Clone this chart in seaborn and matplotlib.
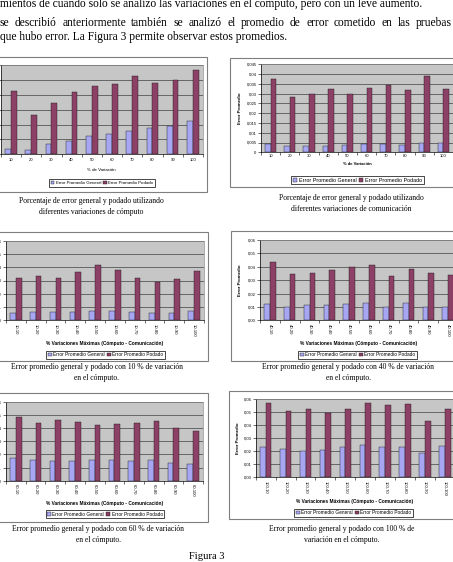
import numpy as np
import pandas as pd
import seaborn as sns
import matplotlib.pyplot as plt
from matplotlib.patches import Rectangle

W, H = 453, 562

series = ["Error Promedio General", "Error Promedio Podado"]
colors = {"Error Promedio General": "#9999FF", "Error Promedio Podado": "#993366"}
plot_bg = "#C6C6C6"

# categorias
var_pct = ["10", "20", "30", "40", "50", "60", "70", "80", "90", "100"]
comb_10 = ["10-10", "10-20", "10-30", "10-40", "10-50", "10-60", "10-70", "10-80", "10-90", "10-100"]
comb_40 = ["40-10", "40-20", "40-30", "40-40", "40-50", "40-60", "40-70", "40-80", "40-90", "40-100"]
comb_60 = ["60-10", "60-20", "60-30", "60-40", "60-50", "60-60", "60-70", "60-80", "60-90", "60-100"]
comb_100 = ["100-10", "100-20", "100-30", "100-40", "100-50", "100-60", "100-70", "100-80", "100-90", "100-100"]

# variaciones de computo
comp_general = [0.0034, 0.0027, 0.0067, 0.0089, 0.0125, 0.0136, 0.0159, 0.0174, 0.0188, 0.0224]
comp_podado = [0.0425, 0.0264, 0.0347, 0.0418, 0.0461, 0.0474, 0.0526, 0.0481, 0.0501, 0.0564]
# variaciones de comunicacion
com_general = [0.0041, 0.0032, 0.0032, 0.0032, 0.0038, 0.0041, 0.0041, 0.0038, 0.0048, 0.0046]
com_podado = [0.0374, 0.0285, 0.0297, 0.0324, 0.0297, 0.0331, 0.0345, 0.0317, 0.0389, 0.0324]
# 10 % computo
c10_general = [0.0055, 0.0063, 0.0063, 0.0063, 0.0070, 0.0070, 0.0063, 0.0055, 0.0055, 0.0070]
c10_podado = [0.0319, 0.0337, 0.0319, 0.0362, 0.0420, 0.0382, 0.0317, 0.0286, 0.0314, 0.0369]
# 40 % computo
c40_general = [0.0119, 0.0102, 0.0112, 0.0112, 0.0119, 0.0127, 0.0102, 0.0127, 0.0102, 0.0102]
c40_podado = [0.0435, 0.0346, 0.0356, 0.0376, 0.0398, 0.0413, 0.0328, 0.0383, 0.0351, 0.0338]
# 60 % computo
c60_general = [0.0170, 0.0157, 0.0149, 0.0149, 0.0157, 0.0157, 0.0149, 0.0157, 0.0134, 0.0127]
c60_podado = [0.0486, 0.0435, 0.0461, 0.0448, 0.0425, 0.0433, 0.0435, 0.0453, 0.0403, 0.0377]
# 100 % computo
c100_general = [0.0231, 0.0221, 0.0200, 0.0213, 0.0231, 0.0246, 0.0231, 0.0231, 0.0190, 0.0238]
c100_podado = [0.0569, 0.0513, 0.0523, 0.0497, 0.0523, 0.0569, 0.0554, 0.0564, 0.0431, 0.0523]

ticks_06 = [0.0, 0.01, 0.02, 0.03, 0.04, 0.05, 0.06]
labels_06 = ["0,00", "0,01", "0,02", "0,03", "0,04", "0,05", "0,06"]
ticks_045 = [0.0, 0.005, 0.01, 0.015, 0.02, 0.025, 0.03, 0.035, 0.04, 0.045]
labels_045 = ["0", "0,005", "0,01", "0,015", "0,02", "0,025", "0,03", "0,035", "0,04", "0,045"]

plt.rcParams["font.family"] = ["Liberation Sans", "DejaVu Sans"]
serif = ["Liberation Serif", "DejaVu Serif"]

fig = plt.figure(figsize=(W / 100, H / 100), dpi=100)


def px_rect(l, t, r, b):
    return [l / W, 1 - b / H, (r - l) / W, (b - t) / H]


def ftext(x, y, s, **kw):
    return fig.text(x / W, 1 - y / H, s, **kw)


def frame(l, t, r, b):
    fig.add_artist(Rectangle((l / W, 1 - b / H), (r - l) / W, (b - t) / H,
                             transform=fig.transFigure, facecolor="white",
                             edgecolor="#7F7F7F", linewidth=0.8, zorder=-1))


def bar_chart(box, cats, gen, pod, ticks, tick_labels, rot=0, xpad=2, leg=None, leg_size=3.3):
    ax = fig.add_axes(px_rect(*box))
    df = pd.DataFrame({
        "cat": cats * 2,
        "serie": [series[0]] * len(cats) + [series[1]] * len(cats),
        "valor": gen + pod,
    })
    sns.barplot(data=df, x="cat", y="valor", hue="serie", order=cats, hue_order=series,
                palette=colors, width=0.58, edgecolor="#1a1a1a", linewidth=0.3,
                errorbar=None, ax=ax)
    handles, labels = ax.get_legend_handles_labels()
    ax.get_legend().remove()
    ax.set_facecolor(plot_bg)
    ax.set_xlim(-0.5, len(cats) - 0.5)
    ax.set_ylim(ticks[0], ticks[-1])
    ax.set_yticks(ticks)
    ax.set_yticklabels(tick_labels)
    ax.set_xlabel("")
    ax.set_ylabel("")
    ax.grid(axis="y", color="#1e1e1e", linewidth=0.4)
    ax.set_axisbelow(True)
    for s in ["top", "right"]:
        ax.spines[s].set_color("#8a8a8a")
        ax.spines[s].set_linewidth(0.5)
    for s in ["left", "bottom"]:
        ax.spines[s].set_color("black")
        ax.spines[s].set_linewidth(0.5)
    ax.set_xticks(np.arange(len(cats) + 1) - 0.5, minor=True)
    ax.tick_params(axis="x", which="major", length=0, labelsize=3, pad=xpad)
    ax.tick_params(axis="x", which="minor", length=2, width=0.4, direction="out")
    ax.tick_params(axis="y", length=2, width=0.4, labelsize=3, pad=1.2)
    if rot:
        for t in ax.get_xticklabels():
            t.set_rotation(270)
            t.set_va("top")
            t.set_ha("center")
    if leg is not None:
        lg = fig.legend(handles, labels, loc="center",
                        bbox_to_anchor=(leg[0] / W, 1 - leg[1] / H), ncol=2,
                        fontsize=leg_size, frameon=True, fancybox=False,
                        edgecolor="black", framealpha=1, handlelength=0.8,
                        handleheight=0.8, handletextpad=0.3, columnspacing=0.5,
                        borderpad=0.35, borderaxespad=0)
        lg.get_frame().set_linewidth(0.5)
    return ax


# texto del documento
line1 = "mientos de cuando solo se analizó las variaciones en el cómputo, pero con un leve aumento."
line2 = "se describió anteriormente también se analizó el promedio de error cometido en las pruebas"
line3 = "que hubo error. La Figura 3 permite observar estos promedios."
body = 8.3
ftext(0, 6.7, line1, fontsize=body, family=serif, va="baseline")
ftext(0, 40, line3, fontsize=body, family=serif, va="baseline")

# linea justificada
renderer = fig.canvas.get_renderer()
words = line2.split()
tmp = [ftext(0, 26, w, fontsize=body, family=serif, va="baseline") for w in words]
widths = [t.get_window_extent(renderer).width for t in tmp]
gap = (452 - sum(widths)) / (len(words) - 1)
x = 0.0
for t, w in zip(tmp, widths):
    t.set_x(x / W)
    x += w + gap

cap = 5.5

# grafico 1
frame(-5, 57.5, 207, 192)
bar_chart((0.9, 65, 202.9, 154.3), var_pct, comp_general, comp_podado, ticks_06, labels_06,
          xpad=3, leg=(102, 183), leg_size=3.2)
ftext(101, 170, "% de Variación", fontsize=3.2, ha="center", va="center")
ftext(91, 201, "Porcentaje de error general y podado utilizando", fontsize=cap, family=serif, ha="center", va="center")
ftext(91, 212, "diferentes variaciones de cómputo", fontsize=cap, family=serif, ha="center", va="center")

# grafico 2
frame(230, 57.7, 470, 187)
bar_chart((261, 64.3, 453, 152.3), var_pct, com_general, com_podado, ticks_045, labels_045,
          xpad=1.5, leg=(357.5, 180), leg_size=3.9)
ftext(357, 164.3, "% de Variación", fontsize=3.0, fontweight="bold", ha="center", va="center")
ftext(240, 108, "Error Promedio", fontsize=3.2, fontweight="bold", rotation=90, ha="center", va="center")
ftext(351.7, 198, "Porcentaje de error general y podado utilizando", fontsize=cap, family=serif, ha="center", va="center")
ftext(351.7, 209, "diferentes variaciones de comunicación", fontsize=cap, family=serif, ha="center", va="center")

axis_comb = "% Variaciones Máximas (Cómputo - Comunicación)"

# grafico 3
frame(-5, 232, 208, 361)
bar_chart((6, 240.7, 204, 320.3), comb_10, c10_general, c10_podado, ticks_06, labels_06,
          rot=True, xpad=2.5, leg=(105.5, 354.7), leg_size=3.4)
ftext(105, 343.7, axis_comb, fontsize=3.4, fontweight="bold", ha="center", va="center")
ftext(97, 367.3, "Error promedio general y podado con 10 % de variación", fontsize=cap, family=serif, ha="center", va="center")
ftext(97, 378.5, "en el cómputo.", fontsize=cap, family=serif, ha="center", va="center")

# grafico 4
frame(231, 231.3, 470, 360.7)
bar_chart((260, 240, 458, 320.3), comb_40, c40_general, c40_podado, ticks_06, labels_06,
          rot=True, xpad=2.5, leg=(357.5, 354.7), leg_size=3.4)
ftext(358.3, 343, axis_comb, fontsize=3.4, fontweight="bold", ha="center", va="center")
ftext(240, 280, "Error Promedio", fontsize=3.2, fontweight="bold", rotation=90, ha="center", va="center")
ftext(348, 367.3, "Error promedio general y podado con 40 % de variación", fontsize=cap, family=serif, ha="center", va="center")
ftext(348, 378.5, "en el cómputo.", fontsize=cap, family=serif, ha="center", va="center")

# grafico 5
frame(-5, 393.3, 208, 521.7)
bar_chart((6, 401.7, 203, 480.7), comb_60, c60_general, c60_podado, ticks_06, labels_06,
          rot=True, xpad=2.5, leg=(105, 514.3), leg_size=3.4)
ftext(104.5, 503.3, axis_comb, fontsize=3.4, fontweight="bold", ha="center", va="center")
ftext(98, 529.3, "Error promedio general y podado con 60 % de variación", fontsize=cap, family=serif, ha="center", va="center")
ftext(98, 540.5, "en el cómputo.", fontsize=cap, family=serif, ha="center", va="center")

# grafico 6
frame(229, 391, 470, 519.3)
bar_chart((255.7, 399.3, 455, 477.3), comb_100, c100_general, c100_podado, ticks_06, labels_06,
          rot=True, xpad=2.5, leg=(353.5, 512.7), leg_size=3.4)
ftext(355, 501.7, axis_comb, fontsize=3.4, fontweight="bold", ha="center", va="center")
ftext(237.7, 438, "Error Promedio", fontsize=3.2, fontweight="bold", rotation=90, ha="center", va="center")
ftext(341.7, 529.3, "Error promedio general y podado con 100 % de", fontsize=cap, family=serif, ha="center", va="center")
ftext(341.7, 540.5, "variación en el cómputo.", fontsize=cap, family=serif, ha="center", va="center")

ftext(207, 556.5, "Figura 3", fontsize=7.6, family=serif, ha="center", va="center")

fig.savefig("out.png", dpi=100)
